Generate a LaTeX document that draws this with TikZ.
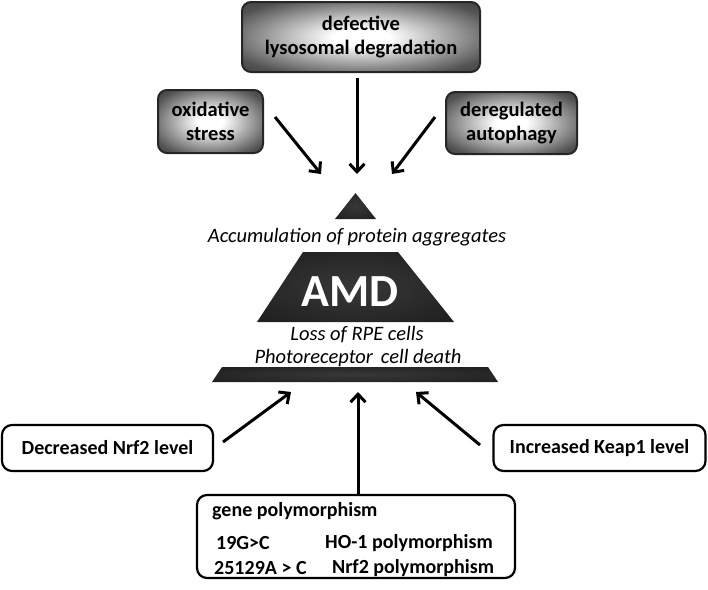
\documentclass[tikz,border=0pt]{standalone}
\usepackage{fontspec}
\setmainfont{Carlito}
\usetikzlibrary{arrows.meta}
\pgfdeclareradialshading{boxglow}{\pgfpoint{0bp}{0bp}}{%
  color(0bp)=(white); color(6bp)=(white); color(30bp)=(black!68); color(42bp)=(black!80); color(50bp)=(black!85)}
\pgfdeclareradialshading{darkglow}{\pgfpoint{0bp}{0bp}}{%
  color(0bp)=(black!78); color(35bp)=(black!88); color(50bp)=(black!95)}
\tikzset{
  glowbox/.style={draw=black!85, line width=2pt, rounded corners=9pt, shading=boxglow,
    align=center, font=\bfseries\fontsize{20.5}{24}\selectfont, inner sep=0pt},
  whitebox/.style={draw=black, line width=2.2pt, rounded corners=10pt, fill=white,
    align=center, font=\bfseries\fontsize{20}{23}\selectfont, inner sep=0pt},
  arr/.style={line width=3pt, -{Straight Barb[length=8pt,width=15pt,line width=3pt]}},
  itext/.style={font=\itshape\fontsize{20.5}{23}\selectfont, inner sep=0pt},
  gtext/.style={font=\bfseries\fontsize{20}{23}\selectfont, inner sep=0pt, anchor=west},
  darkshape/.style={shading=darkglow, draw=none}
}
\begin{document}
\begin{tikzpicture}[x=1pt,y=-1pt]
\useasboundingbox (0,0) rectangle (708,589);
% top boxes
\node[glowbox, minimum width=238pt, minimum height=70pt] (lyso) at (361,37) {defective\\lysosomal degradation};
\node[glowbox, minimum width=105pt, minimum height=63pt] (oxi) at (210.5,121.5) {oxidative\\stress};
\node[glowbox, minimum width=131pt, minimum height=62pt] (auto) at (511.5,123) {deregulated\\autophagy};
% arrow end points
\coordinate (a1s) at (275,117); \coordinate (a1e) at (321,174);
\coordinate (a2s) at (357,78);  \coordinate (a2e) at (357,174);
\coordinate (a3s) at (435,117); \coordinate (a3e) at (392,174);
\draw[arr] (a1s) -- (a1e);
\draw[arr] (a2s) -- (a2e);
\draw[arr] (a3s) -- (a3e);
% pyramid
\path[darkshape] (335,219) -- (376,219) -- (355.5,193) -- cycle;
\node[itext] (accu) at (357,237) {Accumulation of protein aggregates};
\path[darkshape] (303,252) -- (398,252) -- (454,322) -- (257,322) -- cycle;
\node[font=\bfseries\fontsize{46}{50}\selectfont, text=white, inner sep=0pt] (amd) at (350,292) {AMD};
\node[itext] (loss) at (357,335) {Loss of RPE cells};
\node[itext] (photo) at (358,358) {Photoreceptor\, cell death};
\path[darkshape] (222,367) -- (488,367) -- (498,382) -- (212,382) -- cycle;
% bottom boxes
\node[whitebox, minimum width=211pt, minimum height=46pt] (nrf) at (107.5,448) {Decreased Nrf2 level};
\node[whitebox, minimum width=212pt, minimum height=46pt] (keap) at (599.5,448) {Increased Keap1 level};
\node[whitebox, minimum width=318pt, minimum height=83pt] (gene) at (356,536.5) {};
\node[gtext] (g0) at (212,511) {gene polymorphism};
\node[gtext] (g1) at (216,543) {19G>C};
\node[gtext] (g2) at (325,543) {HO-1 polymorphism};
\node[gtext] (g3) at (214,568) {25129A > C};
\node[gtext] (g4) at (332,568) {Nrf2 polymorphism};
\coordinate (b1s) at (223,442); \coordinate (b1e) at (291,392);
\coordinate (b2s) at (358,495); \coordinate (b2e) at (358,392);
\coordinate (b3s) at (480,445); \coordinate (b3e) at (416,392);
\draw[arr] (b1s) -- (b1e);
\draw[arr] (b2s) -- (b2e);
\draw[arr] (b3s) -- (b3e);
\end{tikzpicture}
\end{document}
